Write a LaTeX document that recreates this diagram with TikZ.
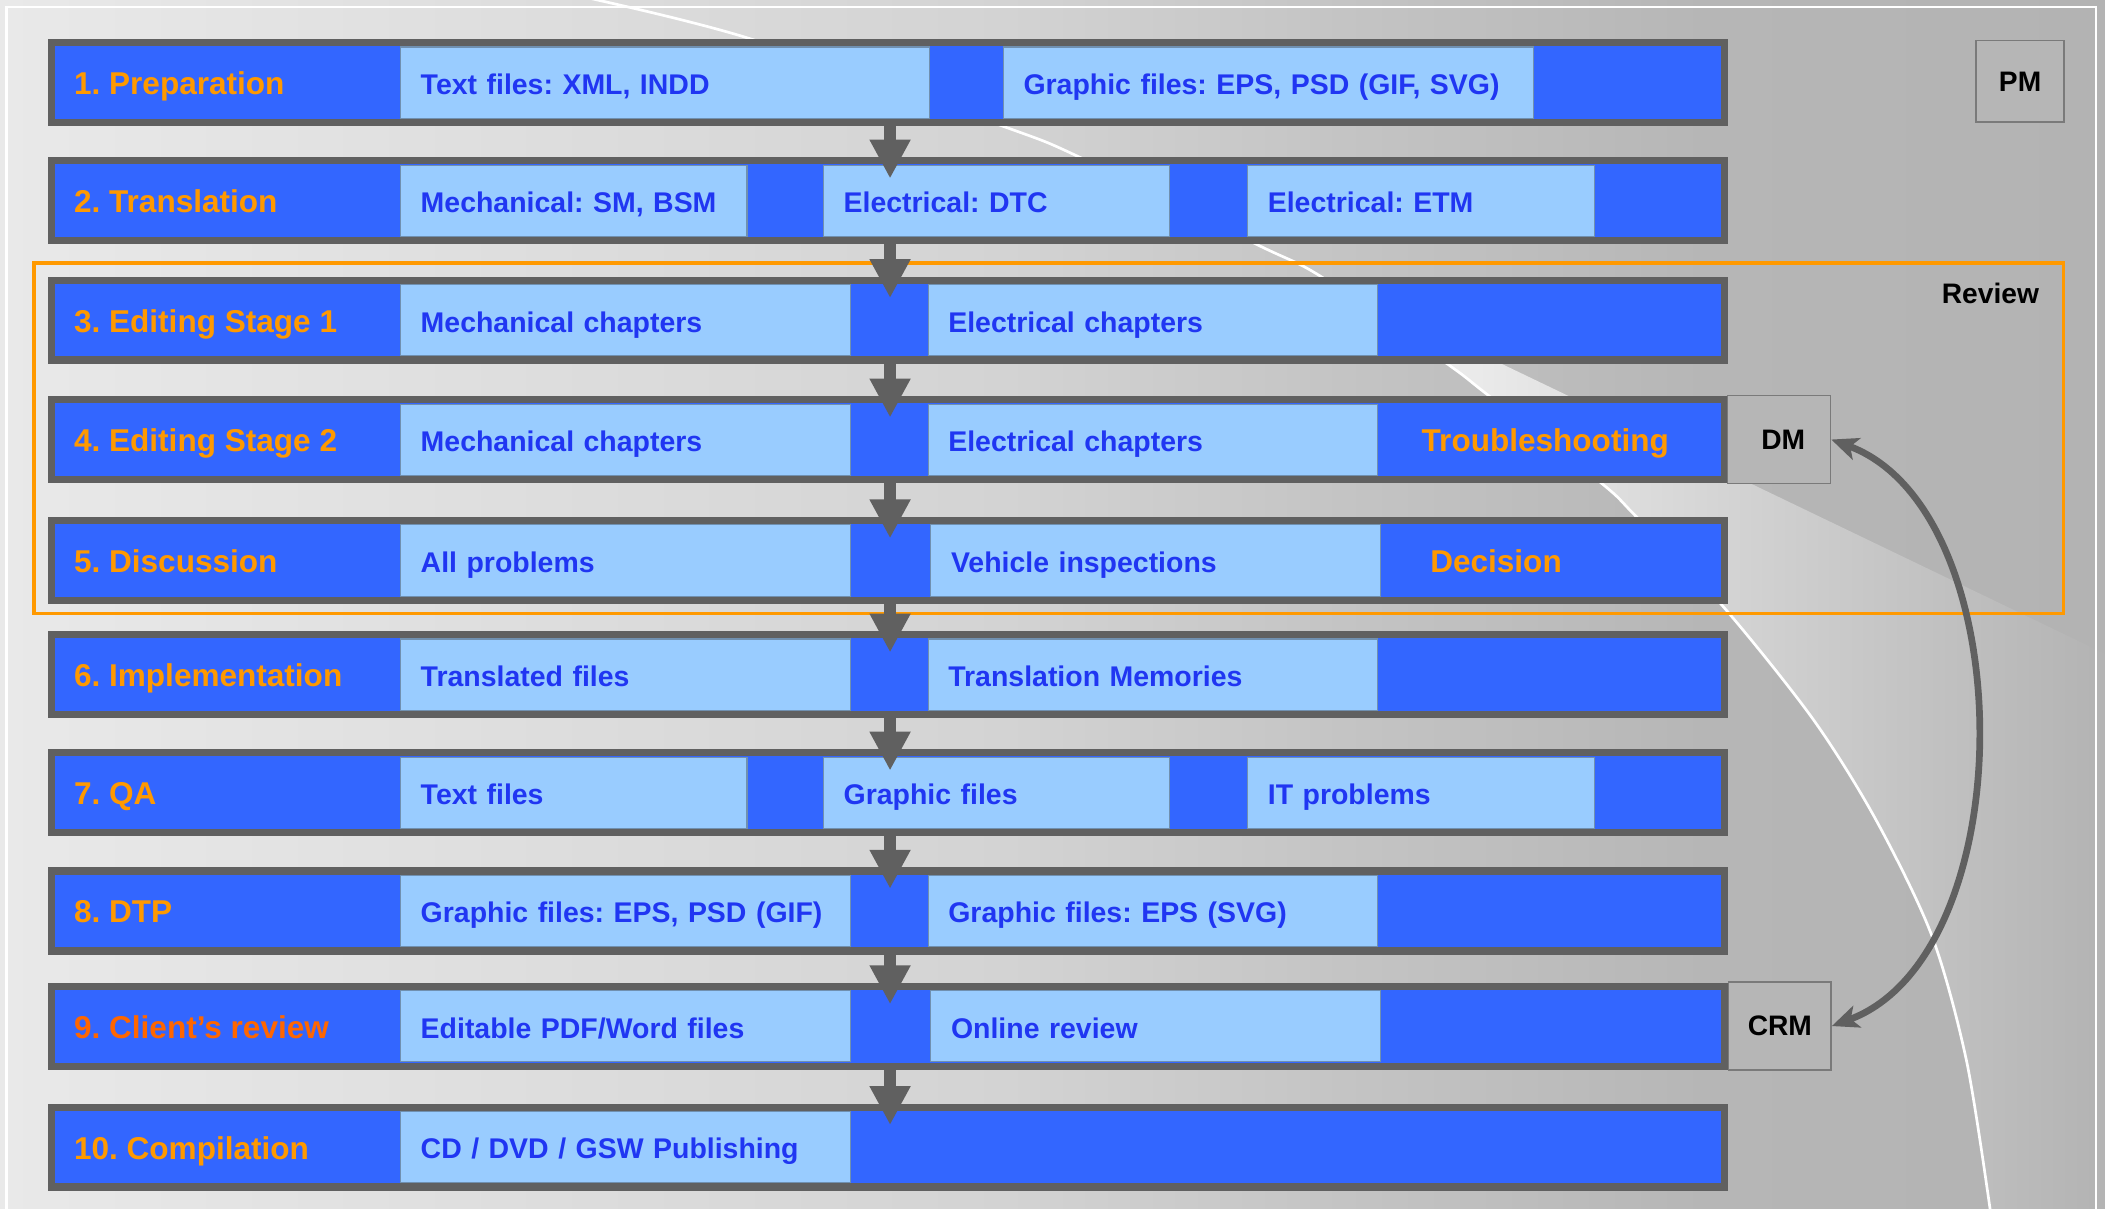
\documentclass[tikz,border=0pt]{standalone}
\usepackage{fontspec}
\setmainfont{Liberation Sans}
\usetikzlibrary{arrows.meta,calc}
\definecolor{rowblue}{HTML}{3366FF}
\definecolor{cellblue}{HTML}{99CCFF}
\definecolor{cellline}{HTML}{7090B0}
\definecolor{bordergray}{HTML}{606060}
\definecolor{txtblue}{HTML}{2036F2}
\definecolor{stepor}{HTML}{FF9900}
\definecolor{stepred}{HTML}{FF6600}
\definecolor{tagfill}{HTML}{B6B6B6}
\definecolor{tagline}{HTML}{7A7A7A}
\definecolor{bgA}{HTML}{E9E9E9}
\definecolor{bgB}{HTML}{D3D3D3}
\definecolor{bgC}{HTML}{C4C4C4}
\definecolor{bgD}{HTML}{B6B6B6}
\definecolor{bgE}{HTML}{B3B3B3}
\definecolor{wgA}{HTML}{F0F0F0}
\definecolor{wgB}{HTML}{EAEAEA}
\definecolor{wgC}{HTML}{D8D8D8}
\definecolor{wgD}{HTML}{C6C6C6}
\definecolor{wgE}{HTML}{B4B4B4}
\pgfdeclarehorizontalshading{bgshade}{100bp}{color(0bp)=(bgA); color(25bp)=(bgA); color(48.9bp)=(bgB); color(56.9bp)=(bgC); color(65.5bp)=(bgD); color(75bp)=(bgE); color(100bp)=(bgE)}
\pgfdeclarehorizontalshading{wedgeshade}{100bp}{color(0bp)=(wgA); color(27.2bp)=(wgA); color(40bp)=(wgB); color(51.2bp)=(wgC); color(62.4bp)=(wgD); color(74.4bp)=(wgE); color(100bp)=(wgE)}
\tikzset{
  row/.style={draw=bordergray, line width=5.5pt, fill=rowblue, minimum width=1246.5pt, minimum height=59.5pt, inner sep=0pt},
  cell/.style={draw=cellline, line width=0.8pt, fill=cellblue, anchor=west, minimum height=53pt, inner ysep=0pt, inner xsep=15pt, align=left, text=txtblue, font=\fontsize{21.2}{24}\selectfont\bfseries\frenchspacing, text height=17.6pt, text depth=0pt},
  steptitle/.style={anchor=base west, inner sep=0pt, text=stepor, font=\fontsize{23.5}{26}\selectfont\bfseries\frenchspacing},
  flow/.style={draw=bordergray, line width=9.2pt, -{Triangle[length=29pt, width=28.6pt]}},
  dbl/.style={draw=bordergray, line width=5pt, {Stealth[length=20pt, width=17pt, inset=5pt]}-{Stealth[length=20pt, width=17pt, inset=5pt]}},
  tagbox/.style={draw=tagline, line width=1pt, fill=tagfill, inner sep=0pt, font=\fontsize{21}{24}\selectfont\bfseries},
  reviewbox/.style={draw=stepor, line width=2.8pt, inner sep=0pt, outer sep=0pt, anchor=north west},
  lbl/.style={inner sep=0pt, font=\fontsize{21}{24}\selectfont\bfseries}
}
\begin{document}
\frenchspacing
\begin{tikzpicture}[x=1pt, y=-1pt]
\useasboundingbox (0,0) rectangle (1568,900);
% background
\shade[shading=bgshade] (0,0) rectangle (1568,900);
\begin{scope}
  \clip plot[smooth] coordinates {(436,-2) (556,28) (747,94) (804,117) (936,182) (984,206) (1078,271) (1108,294) (1193,360) (1218,384) (1282,450) (1350,535) (1397,610) (1439,697) (1465,791) (1483,905)} -- (1600,905) -- (1600,-2) -- cycle;
  \shade[shading=wedgeshade] (900,166) -- (1568,487) -- (1568,905) -- (900,905) -- cycle;
\end{scope}
\draw[white, line width=2pt] plot[smooth] coordinates {(436,-2) (556,28) (747,94) (804,117) (936,182) (984,206) (1078,271) (1108,294) (1193,360) (1218,384) (1282,450) (1350,535) (1397,610) (1439,697) (1465,791) (1483,905)};
\draw[white, line width=1.6pt] (4.8,905) -- (4.8,5) -- (1561,5) -- (1561,905);
% review frame
\node[reviewbox, minimum width=1511.5pt, minimum height=261pt] (review) at (25.5,196) {};
\node[lbl, anchor=base east] (revlbl) at (1519,226.4) {Review};
% rows
\foreach \i/\cy in {1/61.5,2/149.5,3/238.5,4/327.5,5/417.5,6/502.5,7/590.5,8/678.5,9/764.5,10/854.5}
  \node[row] (r\i) at (661.5,\cy) {};
% titles
\node[steptitle] (t1) at (55,70.5) {1. Preparation};
\node[steptitle] (t2) at (55,158.5) {2. Translation};
\node[steptitle] (t3) at (55,247.5) {3. Editing Stage 1};
\node[steptitle] (t4) at (55,336.5) {4. Editing Stage 2};
\node[steptitle] (t5) at (55,426.5) {5. Discussion};
\node[steptitle] (t6) at (55,511.5) {6. Implementation};
\node[steptitle] (t7) at (55,599.5) {7. QA};
\node[steptitle] (t8) at (55,687.5) {8. DTP};
\node[steptitle, text=stepred] (t9) at (55,773.5) {9. Client’s review};
\node[steptitle] (t10) at (55,863.5) {10. Compilation};
\node[steptitle] (trouble) at (1058.8,336.5) {Troubleshooting};
\node[steptitle] (decision) at (1065.2,426.5) {Decision};
% cells
\node[cell, text width=364pt] (c1a) at (298,61.5) {Text files: XML, INDD};
\node[cell, text width=365pt] (c1b) at (747,61.5) {Graphic files: EPS, PSD (GIF, SVG)};
\node[cell, text width=228pt] (c2a) at (298,149.5) {Mechanical: SM, BSM};
\node[cell, text width=228pt] (c2b) at (613,149.5) {Electrical: DTC};
\node[cell, text width=228pt] (c2c) at (929,149.5) {Electrical: ETM};
\node[cell, text width=305pt] (c3a) at (298,238.5) {Mechanical chapters};
\node[cell, text width=305pt] (c3b) at (691,238.5) {Electrical chapters};
\node[cell, text width=305pt] (c4a) at (298,327.5) {Mechanical chapters};
\node[cell, text width=305pt] (c4b) at (691,327.5) {Electrical chapters};
\node[cell, text width=305pt] (c5a) at (298,417.5) {All problems};
\node[cell, text width=305pt] (c5b) at (693,417.5) {Vehicle inspections};
\node[cell, text width=305pt] (c6a) at (298,502.5) {Translated files};
\node[cell, text width=305pt] (c6b) at (691,502.5) {Translation Memories};
\node[cell, text width=228pt] (c7a) at (298,590.5) {Text files};
\node[cell, text width=228pt] (c7b) at (613,590.5) {Graphic files};
\node[cell, text width=228pt] (c7c) at (929,590.5) {IT problems};
\node[cell, text width=305pt] (c8a) at (298,678.5) {Graphic files: EPS, PSD (GIF)};
\node[cell, text width=305pt] (c8b) at (691,678.5) {Graphic files: EPS (SVG)};
\node[cell, text width=305pt] (c9a) at (298,764.5) {Editable PDF/Word files};
\node[cell, text width=305pt] (c9b) at (693,764.5) {Online review};
\node[cell, text width=305pt] (c10a) at (298,854.5) {CD / DVD / GSW Publishing};
% tags
\node[tagbox, minimum width=65.5pt, minimum height=60.5pt] (pm) at (1504.75,60.6) {PM};
\node[tagbox, minimum width=76.6pt, minimum height=65.8pt] (dm) at (1325.3,327.4) {\hspace*{6pt}DM};
\node[tagbox, minimum width=76.4pt, minimum height=65.4pt] (crm) at (1325.8,764.3) {CRM};
% flow arrows
\coordinate (ax) at (663,0);
\foreach \a/\b in {1/2,2/3,3/4,4/5,5/6,6/7,7/8,8/9,9/10}
  \draw[flow] (r\a.south -| ax) -- ($(r\b.north -| ax)+(0,16)$);
% DM <-> CRM
\draw[dbl] (dm.east) .. controls +(143,53) and +(143,-53) .. (crm.east);
\end{tikzpicture}
\end{document}
